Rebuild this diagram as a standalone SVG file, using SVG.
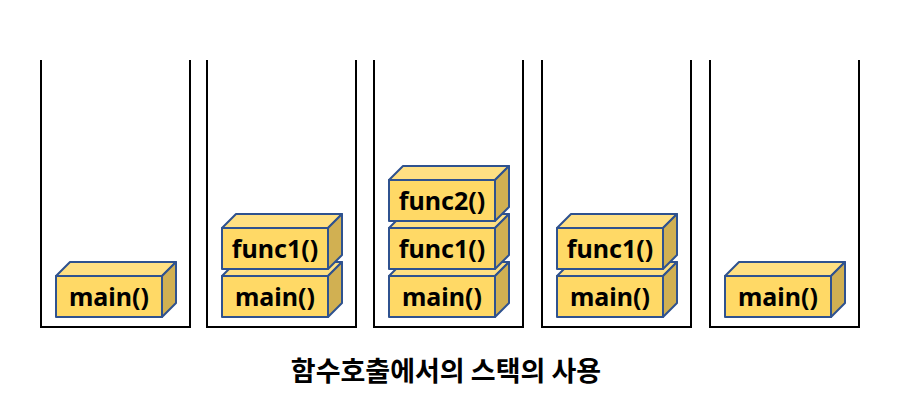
<svg xmlns="http://www.w3.org/2000/svg" width="902" height="415" viewBox="0 0 902 415">
<style>
.stack{fill:none;stroke:#000;stroke-width:2}
.front{fill:#FFD966;stroke:#2F528F;stroke-width:2;stroke-linejoin:round}
.top{fill:#FFE083;stroke:#2F528F;stroke-width:2;stroke-linejoin:round}
.side{fill:#D1B052;stroke:#2F528F;stroke-width:2;stroke-linejoin:round}
.lbl{font-family:"Noto Sans","DejaVu Sans",sans-serif;font-weight:bold;font-size:25px;fill:#000;text-anchor:middle}
.title{font-family:"Noto Sans CJK KR",sans-serif;font-weight:bold;font-size:27px;fill:#000;text-anchor:middle}
</style>
<defs>
<g id="box">
<polygon class="top" points="0,0 14,-14 120,-14 106,0"/>
<polygon class="side" points="106,0 120,-14 120,27 106,41"/>
<rect class="front" x="0" y="0" width="106" height="41"/>
</g>
</defs>
<rect width="902" height="415" fill="#fff"/>
<g id="stacks">
<polyline class="stack" points="41,60 41,327 190,327 190,60"/>
<polyline class="stack" points="207,60 207,327 356,327 356,60"/>
<polyline class="stack" points="374,60 374,327 523,327 523,60"/>
<polyline class="stack" points="542,60 542,327 691,327 691,60"/>
<polyline class="stack" points="710,60 710,327 859,327 859,60"/>
</g>
<g id="connectors"></g>
<g id="s1-main"><use href="#box" x="56" y="276"/><text class="lbl" x="109" y="306">main()</text></g>
<g id="s2-main"><use href="#box" x="222" y="276"/><text class="lbl" x="275" y="306">main()</text></g>
<g id="s2-func1"><use href="#box" x="222" y="228"/><text class="lbl" x="275" y="258">func1()</text></g>
<g id="s3-main"><use href="#box" x="389" y="276"/><text class="lbl" x="442" y="306">main()</text></g>
<g id="s3-func1"><use href="#box" x="389" y="228"/><text class="lbl" x="442" y="258">func1()</text></g>
<g id="s3-func2"><use href="#box" x="389" y="180"/><text class="lbl" x="442" y="210">func2()</text></g>
<g id="s4-main"><use href="#box" x="557" y="276"/><text class="lbl" x="610" y="306">main()</text></g>
<g id="s4-func1"><use href="#box" x="557" y="228"/><text class="lbl" x="610" y="258">func1()</text></g>
<g id="s5-main"><use href="#box" x="725" y="276"/><text class="lbl" x="778" y="306">main()</text></g>
<g id="title"><text class="title" x="446" y="381">함수호출에서의 스택의 사용</text></g>
</svg>
